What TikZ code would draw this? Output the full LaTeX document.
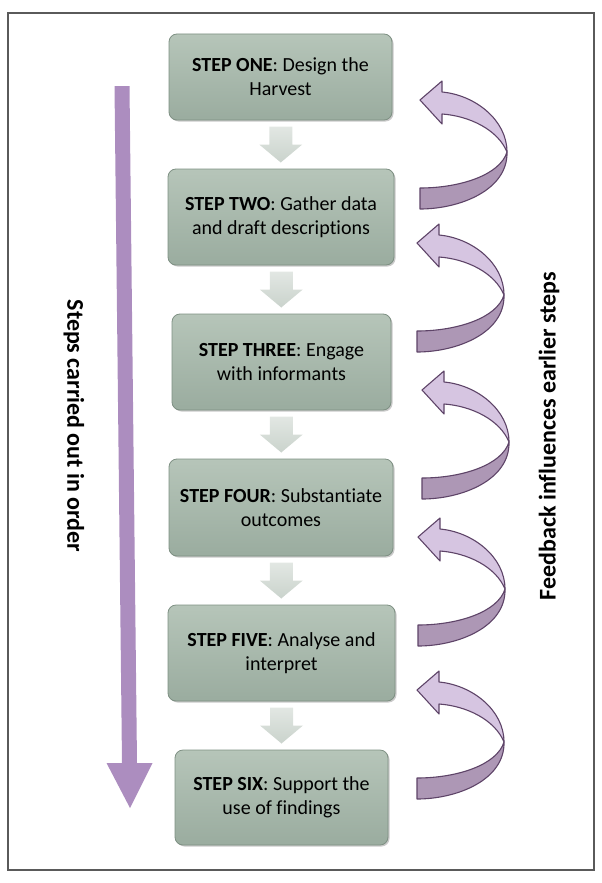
\documentclass[tikz,border=0pt]{standalone}
\usepackage{fontspec}
\setmainfont{Carlito}[Ligatures=NoCommon]
\usetikzlibrary{calc,shadows}
\definecolor{boxtop}{HTML}{B6C5B9}
\definecolor{boxbot}{HTML}{9AAC9F}
\definecolor{boxline}{HTML}{7E9083}
\definecolor{arrtop}{HTML}{E2E7E3}
\definecolor{arrbot}{HTML}{CAD3CC}
\definecolor{fblight}{HTML}{D6C5E1}
\definecolor{fbdark}{HTML}{AD97B5}
\definecolor{fbline}{HTML}{5E4468}
\definecolor{seqpurple}{HTML}{AC8DBF}
\definecolor{framegray}{HTML}{5A5A5A}
\tikzset{
 stepbox/.style={rounded corners=8pt, top color=boxtop, bottom color=boxbot, draw=boxline, line width=0.8pt, align=center, font=\fontsize{20}{24}\selectfont, inner sep=0pt, drop shadow={shadow xshift=1.5pt, shadow yshift=-1.5pt, opacity=0.35, fill=black!60}},
 sidelabel/.style={font=\bfseries\fontsize{24}{28}\selectfont, inner sep=0pt},
 downarr/.pic={\shade[top color=arrtop, bottom color=arrbot] (-11.5,-18) -- (11.5,-18) -- (11.5,0) -- (21.5,0) -- (0,18) -- (-21.5,0) -- (-11.5,0) -- cycle;},
 feedback/.pic={
   \filldraw[fill=fbdark, draw=fbline, line width=1.1pt, line join=round] (87,52) .. controls (80,75) and (40,88) .. (0,88) -- (0,109) .. controls (40,109) and (88,90) .. (87,52) -- cycle;
   \filldraw[fill=fblight, draw=fbline, line width=1.1pt, line join=round] (22,14) -- (22,24) -- (0,0) -- (22,-19) -- (22,-8) .. controls (55,-5) and (87,20) .. (87,52) .. controls (78,30) and (50,16) .. (22,14) -- cycle;
 }
}
\begin{document}
\begin{tikzpicture}[x=1pt,y=-1pt]
\useasboundingbox (0,0) rectangle (602,883);
\draw[framegray, line width=1.5pt] (8,13) rectangle (594,870);
% sequence arrow
\fill[seqpurple] (114.5,86) -- (129.5,86) -- (137,763) -- (152.5,763) -- (130,808) -- (106.5,763) -- (122,763) -- cycle;
\node[sidelabel, rotate=-90] (lseq) at (74,426) {Steps carried out in order};
\node[sidelabel, rotate=90] (lfb) at (549,436) {Feedback influences earlier steps};
% steps
\node[stepbox, minimum width=223pt, minimum height=86pt] (b1) at (280.5,77) {\textbf{STEP ONE}: Design the\\Harvest};
\node[stepbox, minimum width=226pt, minimum height=96pt] (b2) at (281,217) {\textbf{STEP TWO}: Gather data\\and draft descriptions};
\node[stepbox, minimum width=219pt, minimum height=96pt] (b3) at (281.5,362) {\textbf{STEP THREE}: Engage\\with informants};
\node[stepbox, minimum width=224pt, minimum height=97pt] (b4) at (281,507.5) {\textbf{STEP FOUR}: Substantiate\\outcomes};
\node[stepbox, minimum width=227pt, minimum height=96pt] (b5) at (281.5,653) {\textbf{STEP FIVE}: Analyse and\\interpret};
\node[stepbox, minimum width=213pt, minimum height=95pt] (b6) at (281.5,797.5) {\textbf{STEP SIX}: Support the\\use of findings};
% order arrows
\pic at ($(b1.south)!.5!(b2.north)$) {downarr};
\pic at ($(b2.south)!.5!(b3.north)$) {downarr};
\pic at ($(b3.south)!.5!(b4.north)$) {downarr};
\pic at ($(b4.south)!.5!(b5.north)$) {downarr};
\pic at ($(b5.south)!.5!(b6.north)$) {downarr};
% feedback arrows
\pic at (420,100) {feedback};
\pic at (417,243) {feedback};
\pic at (422,390) {feedback};
\pic at (418,537) {feedback};
\pic at (417,690) {feedback};
\end{tikzpicture}
\end{document}
